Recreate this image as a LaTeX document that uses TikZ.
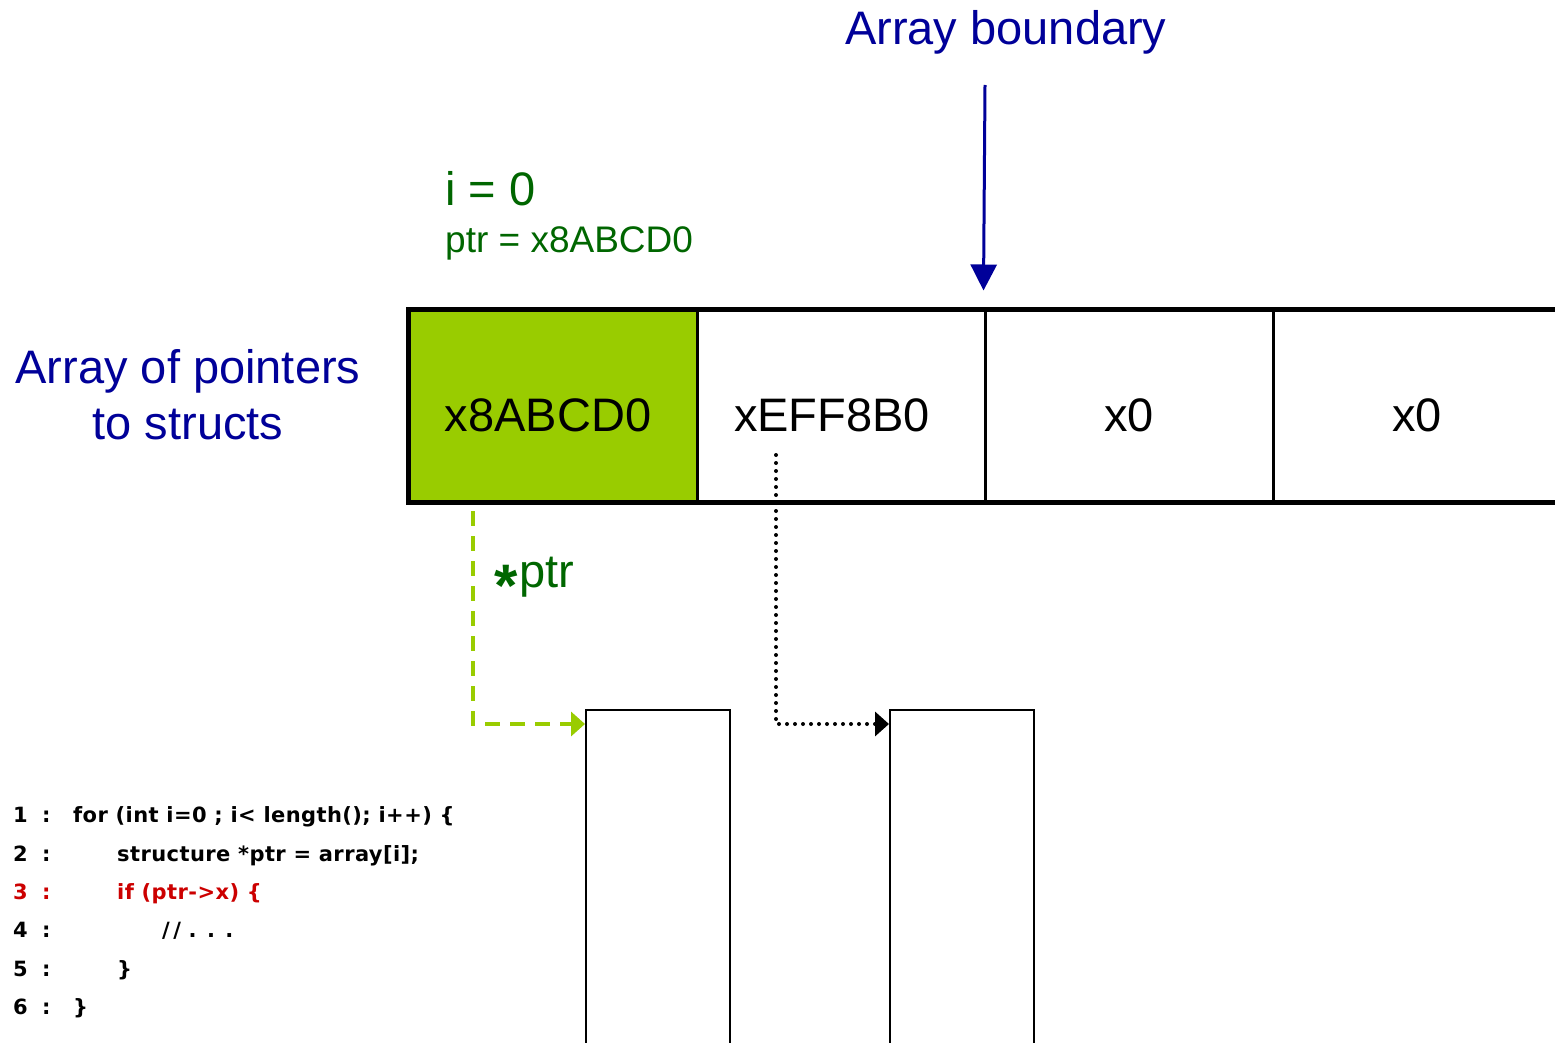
\documentclass[tikz,border=0pt]{standalone}
\usepackage{fontspec}
\setmainfont{Liberation Sans}
\newfontfamily\codefont{DejaVu Sans}[LetterSpace=2]
\usetikzlibrary{arrows.meta}
\definecolor{dblue}{HTML}{000099}
\definecolor{dgreen}{HTML}{006600}
\definecolor{lgreen}{HTML}{99CC00}
\definecolor{cred}{HTML}{CC0000}
\begin{document}
\begin{tikzpicture}[x=1pt,y=-1pt,
  cell/.style={draw=black,line width=3pt,minimum width=288pt,minimum height=191pt,inner sep=0pt},
  celltext/.style={anchor=base,font=\fontsize{47}{56}\selectfont,inner sep=0pt},
  bigtext/.style={font=\fontsize{47}{56}\selectfont,inner sep=0pt},
  codeline/.style={anchor=base west,font=\codefont\bfseries\fontsize{21}{24}\selectfont,inner sep=0pt},
  structbox/.style={draw=black,line width=2pt,minimum width=144pt,minimum height=400pt,inner sep=0pt,anchor=north west},
  barrow/.style={draw=dblue,line width=3pt,-{Triangle[length=26pt,width=26pt]}},
  gdash/.style={draw=lgreen,line width=3.5pt,dash pattern=on 15pt off 10pt,-{Triangle[length=14pt,width=24pt]}},
  bdot/.style={draw=black,line width=4pt,line cap=round,dash pattern=on 0pt off 8pt,-{Triangle[length=14pt,width=24pt]}}
]
\useasboundingbox (0,0) rectangle (1555,1043);
\clip (0,0) rectangle (1555,1043);
\fill[white] (0,0) rectangle (1555,1043);

% array cells
\node[cell,fill=lgreen] (c1) at (553,405.5) {};
\node[cell] (c2) at (841,405.5) {};
\node[cell] (c3) at (1129,405.5) {};
\node[cell] (c4) at (1417,405.5) {};
\draw[line width=4pt] (c1.north west) rectangle (c4.south east);

\node[celltext] (t1) at (548,431) {x8ABCD0};
\node[celltext] (t2) at (832,431) {xEFF8B0};
\node[celltext] (t3) at (1129,431) {x0};
\node[celltext] (t4) at (1417,431) {x0};

% labels
\node[bigtext,text=dblue,anchor=base west] (ab) at (845,45) {Array boundary};
\node[bigtext,text=dblue,align=center,anchor=base] (aop) at (188,439) {Array of pointers\\to structs};
\node[bigtext,text=dgreen,anchor=base west] (iz) at (445,206) {i = 0};
\node[font=\fontsize{37}{44}\selectfont,text=dgreen,anchor=base west,inner sep=0pt] (pv) at (445,252) {ptr = x8ABCD0};
\node[bigtext,text=dgreen,anchor=base west] (sp) at (494,587) {{\bfseries\raisebox{-19pt}{\fontsize{60}{64}\selectfont *}}\kern2pt ptr};

% struct boxes
\node[structbox] (b1) at (585,709) {};
\node[structbox] (b2) at (889,709) {};

% connectors
\coordinate (btop) at (985,85);
\draw[barrow] (btop) -- ([yshift=18pt]c3.north west);
\coordinate (g0) at (473,511);
\draw[gdash] (g0) |- ([yshift=-15pt]b1.north west);
\coordinate (d0) at (776,455);
\draw[bdot] (d0) |- ([yshift=-15pt]b2.north west);

% code
\node[codeline] (n1) at (13,822) {1};
\node[codeline] (n2) at (13,861) {2};
\node[codeline,text=cred] (n3) at (13,899) {3};
\node[codeline] (n4) at (13,937) {4};
\node[codeline] (n5) at (13,976) {5};
\node[codeline] (n6) at (13,1014) {6};
\foreach \yy/\cc in {822/black,861/black,899/cred,937/black,976/black,1014/black}
  \node[codeline,text=\cc] at (42,\yy) {:};
\node[codeline] (l1) at (73,822) {for (int i=0 ; i< length(); i++) \{};
\node[codeline] (l2) at (117,861) {structure *ptr = array[i];};
\node[codeline,text=cred] (l3) at (117,899) {if (ptr->x) \{};
\node[codeline] (l4) at (162,937) {/\,/ . . .};
\node[codeline] (l5) at (117,976) {\}};
\node[codeline] (l6) at (73,1014) {\}};
\end{tikzpicture}
\end{document}
